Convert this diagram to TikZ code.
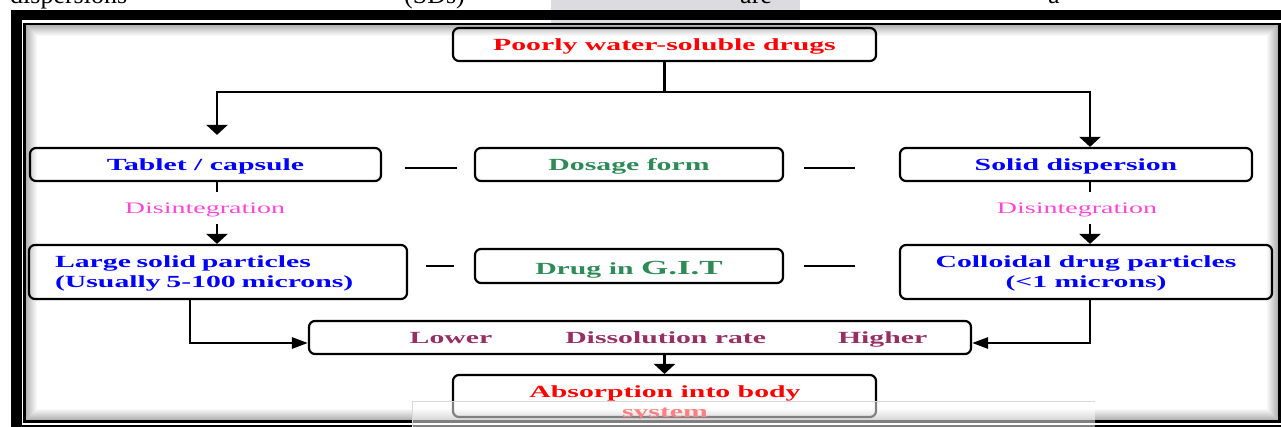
\documentclass[tikz,border=0pt]{standalone}
\usepackage{fontspec}
\setmainfont{Liberation Serif}
\newfontfamily\wideserif[FakeStretch=1.75]{Liberation Serif}
\usetikzlibrary{arrows.meta}
\definecolor{seagreen}{RGB}{46,139,87}
\definecolor{hotpink}{RGB}{255,70,215}
\definecolor{plum}{RGB}{150,48,100}
\definecolor{pagegray}{RGB}{220,220,224}
\begin{document}
\begin{tikzpicture}[x=1pt,y=-1pt,
		box/.style={draw,line width=2.2pt,rounded corners=6pt,inner sep=0pt,text depth=0pt,
				font=\wideserif\bfseries\fontsize{17}{20}\selectfont},
		dis/.style={inner sep=0pt,text=hotpink,font=\wideserif\fontsize{16}{19}\selectfont},
		conn/.style={line width=2.8pt},
		darr/.style={conn,-{Triangle[width=21pt,length=10pt]}},
		harr/.style={conn,-{Triangle[width=11pt,length=16pt]}},
		page/.style={anchor=base west,inner sep=0pt,font=\fontsize{26}{30}\selectfont}
	]
	\useasboundingbox (0,0) rectangle (1281,427);
	\fill[pagegray] (551,-5) rectangle (800,23.5);
	\node[page] (w1) at (10,4) {dispersions};
	\node[page] (w2) at (404,4) {(SDs)};
	\node[page] (w3) at (740,4) {are};
	\node[page] (w4) at (1048,4) {a};
	\draw[line width=10.5pt] (16.5,15) rectangle (1300,430.5);
	\draw[line width=2.5pt,fill=white] (24.5,24.2) rectangle (1279.3,421.3);
	\foreach \i [evaluate=\i as \op using {0.32*(1-\i/12)}] in {1,...,11}
		\draw[line width=1pt,opacity=\op] (25.5+\i,25+\i) rectangle (1278-\i,420-\i);

	\node[box,minimum width=423pt,minimum height=33pt,text=red] (drugs) at (664.5,44.5) {Poorly water-soluble drugs};
	\node[box,minimum width=351pt,minimum height=33pt,text=blue] (tablet) at (205.5,164.5) {Tablet / capsule};
	\node[box,minimum width=308pt,minimum height=33pt,text=seagreen] (dosage) at (629,164.5) {Dosage form};
	\node[box,minimum width=352pt,minimum height=33pt,text=blue] (solid) at (1076,164.5) {Solid dispersion};
	\node[dis] (dis1) at (205,210) {Disintegration};
	\node[dis] (dis2) at (1077,210) {Disintegration};
	\node[box,minimum width=378pt,minimum height=54pt,text=blue,align=left,text width=326pt,text depth=20pt] (large) at (218,272)
		{Large solid particles\\(Usually 5-100 microns)};
	\node[box,minimum width=308pt,minimum height=34pt,text=seagreen,text height=17pt] (git) at (629,266)
		{Drug in {\fontsize{20}{22}\selectfont G.I.T}};
	\node[box,minimum width=372pt,minimum height=54pt,text=blue,align=center] (colloid) at (1086,272)
		{Colloidal drug particles\\(<1 microns)};
	\node[box,minimum width=662pt,minimum height=33pt] (diss) at (640,337.5) {};
	\node[inner sep=0pt,text=plum,font=\wideserif\bfseries\fontsize{17}{20}\selectfont] (rate) at (668.5,339.5)
		{Lower\hspace{73pt}Dissolution rate\hspace{72pt}Higher};
	\node[box,minimum width=423pt,minimum height=42pt] (absorb) at (664.5,396) {};
	\begin{scope}
		\clip[rounded corners=6pt] (absorb.south west) rectangle (absorb.north east);
		\node[anchor=north,inner sep=0pt,align=center,text=red,font=\wideserif\bfseries\fontsize{17}{20}\selectfont]
			(abstxt) at (665,385.5) {Absorption into body\\system};
	\end{scope}

	\coordinate (fork) at (664.5,92);
	\coordinate (lcol) at (217,0);
	\coordinate (rcol) at (1090,0);
	\path (tablet.north -| lcol) ++(0,-12) coordinate (ltip);
	\draw[conn] (drugs) -- (fork);
	\draw[darr] (fork) -| (ltip);
	\draw[darr] (fork) -| (solid.north -| rcol);
	\draw[conn] (tablet.south -| lcol) -- ++(0,10);
	\draw[conn] (solid.south -| rcol) -- ++(0,10);
	\draw[darr] (dis1.south -| lcol) ++(0,7) -- (large.north -| lcol);
	\draw[darr] (dis2.south -| rcol) ++(0,7) -- (colloid.north -| rcol);

	\draw[conn] ([xshift=23pt,yshift=-3.5pt]tablet.east) -- ++(52,0);
	\draw[conn] ([xshift=20pt,yshift=-3.5pt]dosage.east) -- ++(51,0);
	\draw[conn] ([xshift=-20pt]git.west) -- ++(-28,0);
	\draw[conn] ([xshift=20pt]git.east) -- ++(51,0);

	\draw[harr] ([xshift=-28pt]large.south) |- ([yshift=-5.5pt]diss.west);
	\draw[harr] (colloid.south -| rcol) |- ([yshift=-5.5pt]diss.east);
	\draw[darr] (diss.south -| absorb.north) -- (absorb.north);

	\fill[white,opacity=0.5] (412,401) rectangle (1095,430);
	\draw[black!15,line width=0.8pt] (412,430) |- (1095,401);
\end{tikzpicture}
\end{document}
